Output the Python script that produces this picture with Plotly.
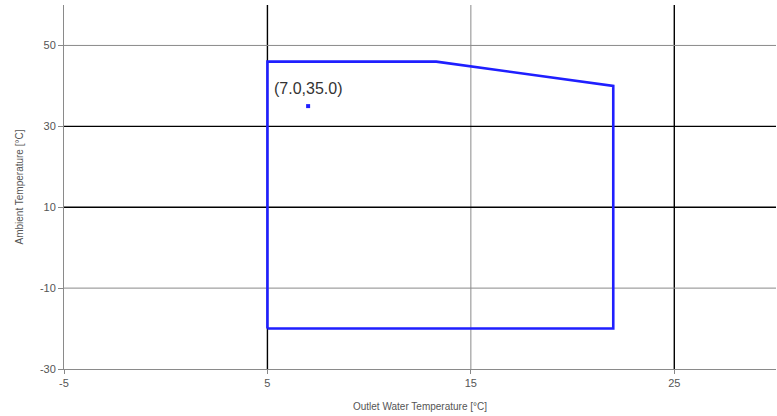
import plotly.graph_objects as go

# Operating envelope boundary (outlet water temp, ambient temp)
envelope_x = [5, 5, 13.3, 22, 22, 5]
envelope_y = [-20, 46, 46, 40, -20, -20]

# Current operating point
point_x = [7.0]
point_y = [35.0]

x_ticks = [-5, 5, 15, 25]
y_ticks = [-30, -10, 10, 30, 50]

# Gridlines drawn darker at these values
dark_x = [5, 25]
dark_y = [10, 30]

fig = go.Figure()

fig.add_trace(go.Scatter(
    x=envelope_x, y=envelope_y, mode="lines",
    line=dict(color="#1f1fff", width=2.6),
    hoverinfo="skip", showlegend=False,
))

fig.add_trace(go.Scatter(
    x=point_x, y=point_y, mode="markers",
    marker=dict(color="#1f1fff", size=4, symbol="square"),
    showlegend=False,
))

for px, py in zip(point_x, point_y):
    fig.add_annotation(
        x=px, y=py, text=f"({px:.1f},{py:.1f})", showarrow=False,
        yshift=18, font=dict(family="Liberation Sans, Arial", size=16, color="#333333"),
    )

# Grid drawn as shapes beneath the data
for xv in x_ticks[1:]:
    dark = xv in dark_x
    fig.add_shape(type="line", xref="x", yref="paper", x0=xv, x1=xv, y0=0, y1=1,
                  line=dict(color="#000000" if dark else "#8a8a8a", width=1.4 if dark else 1),
                  layer="below")
for yv in y_ticks[1:]:
    dark = yv in dark_y
    fig.add_shape(type="line", xref="paper", yref="y", x0=0, x1=1, y0=yv, y1=yv,
                  line=dict(color="#000000" if dark else "#8a8a8a", width=1.4 if dark else 1),
                  layer="below")

fig.update_layout(
    width=777, height=416,
    margin=dict(l=64, r=1, t=5, b=47),
    plot_bgcolor="white", paper_bgcolor="white",
    font=dict(family="Liberation Sans, Arial", color="#555555"),
    xaxis=dict(
        range=[-5, 30], tickvals=x_ticks, ticktext=[str(v) for v in x_ticks],
        ticks="outside", ticklen=4,
        tickcolor="#888888", showgrid=False,
        showline=True, linecolor="#8a8a8a", linewidth=1, zeroline=False,
        tickfont=dict(size=11, color="#555555"),
        title=dict(text="Outlet Water Temperature [°C]", font=dict(size=10, color="#555555"), standoff=14),
    ),
    yaxis=dict(
        range=[-30, 60], tickvals=y_ticks, ticktext=[str(v) for v in y_ticks],
        ticks="outside", ticklen=5,
        tickcolor="#888888", showgrid=False,
        showline=True, linecolor="#8a8a8a", linewidth=1, zeroline=False,
        tickfont=dict(size=11, color="#555555"),
        title=dict(text="Ambient Temperature [°C]", font=dict(size=10, color="#555555"), standoff=14),
    ),
)

fig.write_html("out.html")
